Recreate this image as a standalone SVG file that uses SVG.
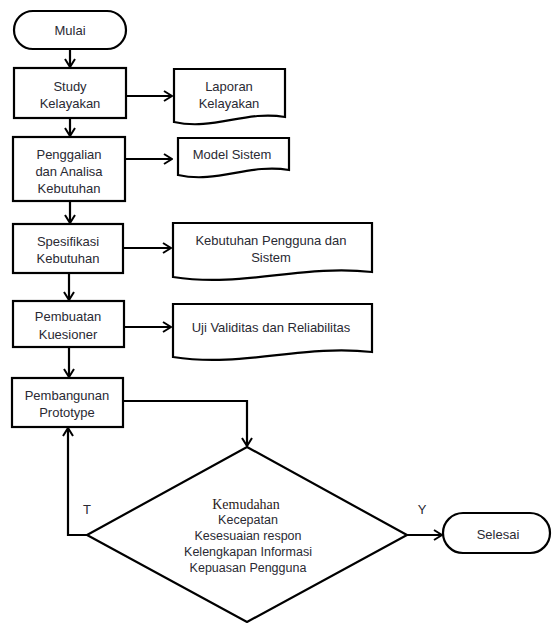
<svg xmlns="http://www.w3.org/2000/svg" width="552" height="623" viewBox="0 0 552 623">
<defs>
<marker id="arr" markerWidth="10" markerHeight="12" refX="9" refY="6" orient="auto" markerUnits="userSpaceOnUse">
<path d="M1,1 L9,6 L1,11" fill="none" stroke="#000" stroke-width="2"/>
</marker>
<style>
.s{fill:#fff;stroke:#000;stroke-width:2.2}
.t{font-family:"Liberation Sans",Arial,sans-serif;font-size:13px;fill:#2a2a33;text-anchor:middle}
.d{font-family:"Liberation Sans",Arial,sans-serif;font-size:12.5px;fill:#2a2a33;text-anchor:middle}
.k{font-family:"Liberation Serif","Times New Roman",serif;font-size:14px;fill:#2a2020;text-anchor:middle}
.c{fill:none;stroke:#000;stroke-width:2.2}
</style>
</defs>
<rect width="552" height="623" fill="#fff"/>
<g id="connectors">
<line class="c" x1="70" y1="50" x2="70" y2="67" marker-end="url(#arr)"/>
<line class="c" x1="127" y1="96" x2="172" y2="96" marker-end="url(#arr)"/>
<line class="c" x1="70" y1="119" x2="70" y2="136" marker-end="url(#arr)"/>
<line class="c" x1="126" y1="159" x2="172" y2="159" marker-end="url(#arr)"/>
<line class="c" x1="70" y1="202" x2="70" y2="223" marker-end="url(#arr)"/>
<line class="c" x1="124" y1="248" x2="171" y2="248" marker-end="url(#arr)"/>
<line class="c" x1="69" y1="274" x2="69" y2="300" marker-end="url(#arr)"/>
<line class="c" x1="124" y1="327" x2="171" y2="327" marker-end="url(#arr)"/>
<line class="c" x1="69" y1="348" x2="69" y2="377" marker-end="url(#arr)"/>
<polyline class="c" points="124,401 247,401 247,446" marker-end="url(#arr)"/>
<polyline class="c" points="87,535 68,535 68,428" marker-end="url(#arr)"/>
<line class="c" x1="407" y1="535" x2="442" y2="535" marker-end="url(#arr)"/>
<text class="t" x="87" y="514">T</text>
<text class="t" x="422" y="514">Y</text>
</g>
<g id="mulai">
<rect class="s" x="14" y="11" width="112" height="38" rx="19"/>
<text class="t" x="70" y="35">Mulai</text>
</g>
<g id="study">
<rect class="s" x="14" y="68" width="112" height="50"/>
<text class="t" x="70" y="91">Study</text>
<text class="t" x="70" y="108">Kelayakan</text>
</g>
<g id="laporan">
<path class="s" d="M174,69 H285 V117 C246,110 213,131 174,122 Z"/>
<text class="t" x="229" y="91">Laporan</text>
<text class="t" x="229" y="108">Kelayakan</text>
</g>
<g id="penggalian">
<rect class="s" x="13" y="137" width="112" height="64"/>
<text class="t" x="69" y="159">Penggalian</text>
<text class="t" x="69" y="176">dan Analisa</text>
<text class="t" x="69" y="193">Kebutuhan</text>
</g>
<g id="model">
<path class="s" d="M178,138 H289 V170 C250,163 217,184 178,175 Z"/>
<text class="t" x="232" y="159">Model Sistem</text>
</g>
<g id="spesifikasi">
<rect class="s" x="13" y="224" width="110" height="49"/>
<text class="t" x="68" y="246">Spesifikasi</text>
<text class="t" x="68" y="263">Kebutuhan</text>
</g>
<g id="kebutuhan">
<path class="s" d="M173,223 H372 V272 C302,264 243,288 173,277 Z"/>
<text class="t" x="271" y="245">Kebutuhan Pengguna dan</text>
<text class="t" x="271" y="262">Sistem</text>
</g>
<g id="pembuatan">
<rect class="s" x="13" y="301" width="111" height="46"/>
<text class="t" x="68" y="321">Pembuatan</text>
<text class="t" x="68" y="339">Kuesioner</text>
</g>
<g id="uji">
<path class="s" d="M173,304 H372 V352 C302,344 243,368 173,357 Z"/>
<text class="t" x="271" y="332">Uji Validitas dan Reliabilitas</text>
</g>
<g id="pembangunan">
<rect class="s" x="12" y="378" width="111" height="49"/>
<text class="t" x="67" y="400">Pembangunan</text>
<text class="t" x="67" y="417">Prototype</text>
</g>
<g id="keputusan">
<polygon class="s" points="247,447 407,535 247,622 87,535"/>
<text class="k" x="246" y="509">Kemudahan</text>
<text class="d" x="248" y="524">Kecepatan</text>
<text class="d" x="248" y="540">Kesesuaian respon</text>
<text class="d" x="248" y="556">Kelengkapan Informasi</text>
<text class="d" x="248" y="572">Kepuasan Pengguna</text>
</g>
<g id="selesai">
<rect class="s" x="443" y="513" width="107" height="40" rx="20"/>
<text class="t" x="498" y="539">Selesai</text>
</g>
</svg>
